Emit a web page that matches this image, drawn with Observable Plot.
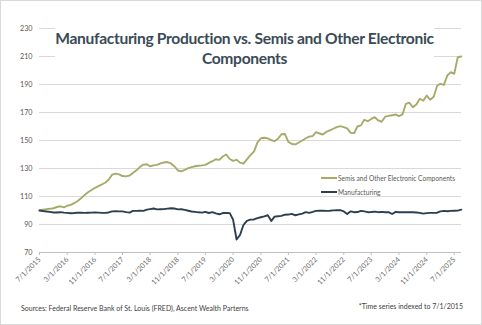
<!DOCTYPE html>
<html>
<head>
<meta charset="utf-8">
<script src="https://cdn.jsdelivr.net/npm/d3@7"></script>
<script src="https://cdn.jsdelivr.net/npm/@observablehq/plot@0.6"></script>
<style>
  html, body { margin: 0; padding: 0; background: #fff; }
  #wrap { position: relative; width: 482px; height: 325px; overflow: hidden; font-family: Lato, "Open Sans", sans-serif; }
  #wrap svg { position: absolute; left: 0; top: 0; }
  #frame { position: absolute; left: 0; top: 0; width: 482px; height: 325px; border: 1px solid #d9d9d9; box-sizing: border-box; pointer-events: none; }
  #title { position: absolute; left: 55px; top: 20px; width: 379px; height: 50px; background: #fff; text-align: center;
           font-weight: 700; font-size: 15.6px; letter-spacing: -0.33px; line-height: 20px; color: #3a4b58; padding-top: 8px; box-sizing: border-box; white-space: nowrap; }
  .leg { position: absolute; font-size: 6.6px; color: #595959; white-space: nowrap; display: flex; align-items: center; }
  .sw { display: inline-block; width: 16px; height: 2px; margin-right: 1px; }
  .foot { position: absolute; font-size: 7px; color: #404040; white-space: nowrap; }
</style>
</head>
<body>
<div id="wrap"></div>
<script>
const startMonth = "2015-07-01";
const semis = [
  100, 100.5, 101, 101.2, 101.6, 102.5, 103, 102.2, 103.4, 104,
  105.2, 106.8, 108.8, 111, 113, 114.6, 116.2, 117.4, 118.6, 120,
  122, 125.6, 126.3, 125.8, 124.6, 124.4, 125, 126.8, 128.7, 131,
  132.8, 133, 131.6, 132.2, 132.6, 133.6, 134.3, 134.6, 133.6, 131.6,
  128.6, 128, 129, 130.2, 131, 131.6, 132, 132.2, 132.6, 134,
  135.2, 136.6, 136.2, 138.6, 140, 136.8, 135.4, 136.2, 134.2, 133.5,
  136.5, 139.5, 142, 148.5, 151.6, 152, 151.5, 150.2, 149.5, 151.3,
  154.5, 154.6, 149, 147.5, 147.2, 148.6, 150, 151.6, 152.8, 153.2,
  156, 155, 154.3, 156.2, 157.2, 158.4, 159.6, 160.3, 159.5, 158.6,
  155.5, 155.3, 160, 160.8, 164.8, 163.8, 165.4, 166.7, 164.3, 163.4,
  167, 167.6, 168, 168.6, 167.4, 168.6, 176.2, 177, 173.8, 175.7,
  179.8, 178.4, 182.1, 179.1, 181.2, 189.3, 190.5, 189.7, 196.4, 198.8,
  197.6, 209.5, 210
];
const manufacturing = [
  100, 99.6, 99.3, 99, 98.6, 98.6, 98.8, 98.5, 98.3, 98,
  98.2, 98.5, 98.4, 98.3, 98.4, 98.5, 98.6, 98.5, 98.3, 98.3,
  98.6, 99.4, 99.5, 99.4, 99.4, 98.8, 98.5, 99.7, 99.7, 99.8,
  99.7, 100.6, 101, 101.4, 100.8, 100.9, 101, 101.3, 101.6, 101.4,
  100.8, 100.9, 100.4, 99.8, 99.3, 99, 98.7, 98.5, 99, 98.2,
  98.8, 98, 97.3, 98.2, 98.3, 98.1, 93.5, 79.3, 82.5, 89.8,
  92.6, 93.5, 93.6, 94.6, 95.2, 95.8, 96.6, 92.5, 95.6, 95.9,
  96.2, 97, 97.1, 97.6, 96.6, 97.2, 97.8, 98.8, 98.3, 99,
  99.7, 99.8, 99.9, 99.7, 99.8, 100.1, 100.2, 100.2, 99.3, 97.5,
  99.4, 98.8, 98.9, 99.7, 99.4, 98.8, 98.9, 99.2, 98.8, 99,
  98.8, 98.8, 97.5, 99, 98.8, 98.7, 98.8, 98.7, 98.7, 98.6,
  98.3, 97.8, 98.1, 98.3, 98.3, 98.4, 99.4, 99.7, 99.5, 99.7,
  99.8, 99.9, 100.6
];
const seriesNames = ["Semis and Other Electronic Components", "Manufacturing"];
const seriesColors = ["#a7ab6a", "#2d3e4e"];
const yTicks = [70, 90, 110, 130, 150, 170, 190, 210, 230];
const xTickLabels = ["7/1/2015","3/1/2016","11/1/2016","7/1/2017","3/1/2018","11/1/2018","7/1/2019","3/1/2020",
  "11/1/2020","7/1/2021","3/1/2022","11/1/2022","7/1/2023","3/1/2024","11/1/2024","7/1/2025"];
const titleLines = ["Manufacturing Production vs. Semis and Other Electronic", "Components"];
const sourceText = "Sources: Federal Reserve Bank of St. Louis (FRED), Ascent Wealth Parterns";
const noteText = "*Time series indexed to 7/1/2015";

const start = new Date(startMonth + "T00:00:00Z");
const parseMDY = d3.utcParse("%m/%d/%Y");
const fmt = d3.utcFormat("%-m/%-d/%Y");
const xTicks = xTickLabels.map(s => parseMDY(s));
const rows = [];
semis.forEach((v, i) => rows.push({date: d3.utcMonth.offset(start, i), value: v, series: seriesNames[0]}));
manufacturing.forEach((v, i) => rows.push({date: d3.utcMonth.offset(start, i), value: v, series: seriesNames[1]}));

const chart = Plot.plot({
  width: 482,
  height: 325,
  marginLeft: 39,
  marginRight: 21,
  marginTop: 28,
  marginBottom: 73,
  style: {fontFamily: "Lato, 'Open Sans', sans-serif", fontSize: "7.2px", color: "#595959", background: "transparent"},
  x: {type: "utc", domain: [start, new Date("2025-09-03T00:00:00Z")]},
  y: {domain: [70, 230]},
  color: {domain: seriesNames, range: seriesColors},
  marks: [
    Plot.gridY(yTicks, {stroke: "#d9d9d9", strokeOpacity: 1}),
    Plot.ruleY([70], {stroke: "#bfbfbf"}),
    Plot.axisY(yTicks, {tickSize: 0, tickPadding: 7, label: null, fill: "#595959"}),
    Plot.axisX(xTicks, {tickFormat: fmt, tickRotate: -45, tickSize: 3, tickPadding: 3, stroke: "#bfbfbf", fill: "#6a6a6a", label: null}),
    Plot.lineY(rows, {x: "date", y: "value", z: "series", stroke: "series", strokeWidth: 1.9, curve: "linear"})
  ]
});

const wrap = document.getElementById("wrap");
wrap.appendChild(chart);

const title = document.createElement("div");
title.id = "title";
titleLines.forEach(t => {
  const l = document.createElement("div");
  l.textContent = t;
  title.appendChild(l);
});
wrap.appendChild(title);

const legPos = [[321, 174], [321, 187.5]];
seriesNames.forEach((n, i) => {
  const d = document.createElement("div");
  d.className = "leg";
  d.style.left = legPos[i][0] + "px";
  d.style.top = legPos[i][1] + "px";
  const sw = document.createElement("span");
  sw.className = "sw";
  sw.style.background = seriesColors[i];
  d.appendChild(sw);
  d.appendChild(document.createTextNode(n));
  wrap.appendChild(d);
});

const src = document.createElement("div");
src.className = "foot";
src.style.left = "21px";
src.style.top = "304px";
src.textContent = sourceText;
wrap.appendChild(src);

const note = document.createElement("div");
note.className = "foot";
note.style.right = "19px";
note.style.top = "302px";
note.textContent = noteText;
wrap.appendChild(note);

const frame = document.createElement("div");
frame.id = "frame";
wrap.appendChild(frame);
</script>
</body>
</html>
